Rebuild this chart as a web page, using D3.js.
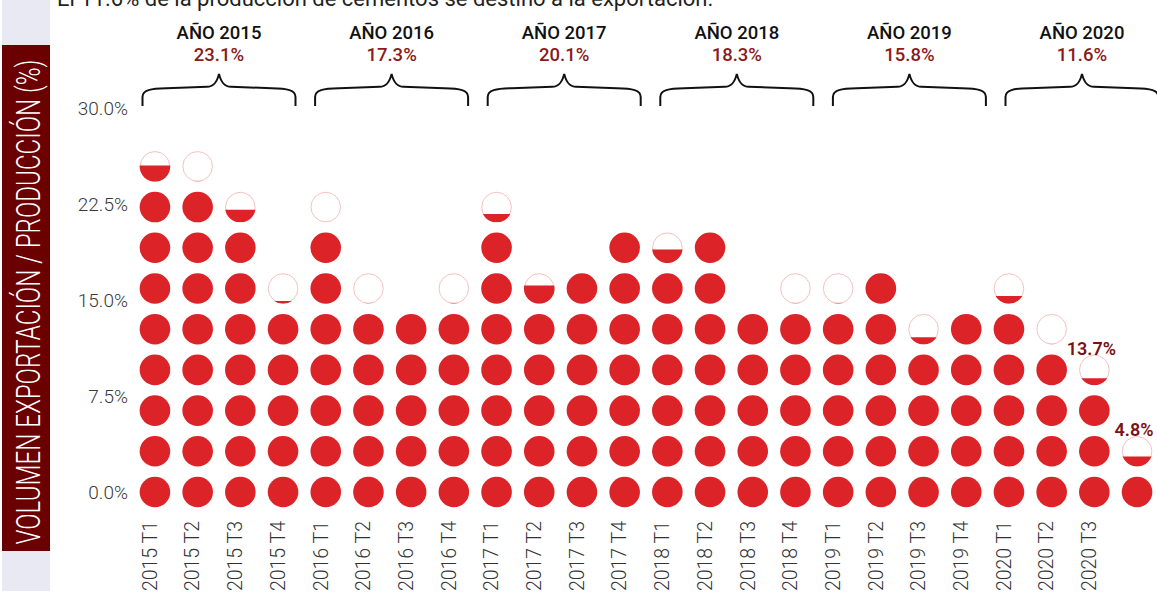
<!DOCTYPE html>
<html lang="es">
<head>
<meta charset="utf-8">
<script src="https://cdn.jsdelivr.net/npm/d3@7"></script>
<style>
  html, body { margin: 0; padding: 0; background: #fff; }
  svg { display: block; font-family: Roboto, "Noto Sans", sans-serif; }
</style>
</head>
<body>
<svg id="chart" width="1157" height="597"></svg>
<script>
// trimestres
const quarters = [
    "2015 T1", "2015 T2", "2015 T3", "2015 T4",
    "2016 T1", "2016 T2", "2016 T3", "2016 T4",
    "2017 T1", "2017 T2", "2017 T3", "2017 T4",
    "2018 T1", "2018 T2", "2018 T3", "2018 T4",
    "2019 T1", "2019 T2", "2019 T3", "2019 T4",
    "2020 T1", "2020 T2", "2020 T3", "2020 T4"
];
// el ultimo trimestre no lleva etiqueta en el original
const quarterLabels = quarters.map((q, i) => i === quarters.length - 1 ? "" : q);

// volumen exportacion / produccion (%)
const exportShare = [
    27.13, 25.46, 23.56, 16.19,
    22.28, 15.92, 15.90, 15.96,
    23.12, 17.81, 19.08, 22.26,
    20.48, 22.26, 15.90, 15.92,
    15.96, 19.08, 13.48, 15.90,
    16.70, 12.74, 10.27, 4.23
];

const years = ["AÑO 2015", "AÑO 2016", "AÑO 2017", "AÑO 2018", "AÑO 2019", "AÑO 2020"];
const yearShare = [23.1, 17.3, 20.1, 18.3, 15.8, 11.6];

const yTicks = [0, 7.5, 15, 22.5, 30];

const notedQuarters = ["2020 T3", "2020 T4"];
const notedValues = [13.7, 4.8];

const dotUnit = 3.18; // % que vale cada circulo

const svg = d3.select("#chart");
const fmt = d => d3.format(".1f")(d) + "%";

const x = d3.scaleBand().domain(quarters).range([133.6, 1158.4]);
const y = d3.scaleLinear().domain([0, 30]).range([492, 108]);
const yearX = d3.scalePoint().domain(years).range([219, 1082]);
const r = 15.3;
const red = "#dc2328";

// titulo (cortado arriba)
svg.append("text")
    .attr("x", 57)
    .attr("y", 6)
    .attr("font-size", 22)
    .attr("fill", "#1f1f1f")
    .text("El 11.6% de la producción de cementos se destinó a la exportación.");

// barra lateral
svg.append("rect")
    .attr("x", 2).attr("y", 0)
    .attr("width", 48).attr("height", 591)
    .attr("fill", "#e9e9f3");

svg.append("rect")
    .attr("x", 2).attr("y", 45)
    .attr("width", 48).attr("height", 506)
    .attr("fill", "#6b0000");

svg.append("text")
    .attr("transform", "translate(40,302) rotate(-90)")
    .attr("text-anchor", "middle")
    .attr("font-size", 34)
    .attr("font-weight", 300)
    .attr("fill", "#fff")
    .attr("textLength", 485)
    .attr("lengthAdjust", "spacingAndGlyphs")
    .text("VOLUMEN EXPORTACIÓN / PRODUCCIÓN (%)");

// eje y
svg.append("g")
    .attr("transform", "translate(128,0)")
    .call(d3.axisLeft(y).tickValues(yTicks).tickSize(0).tickPadding(0).tickFormat(fmt))
    .call(g => g.select(".domain").remove())
    .attr("font-family", null)
    .attr("font-size", 19)
    .selectAll("text")
    .attr("font-weight", 300)
    .attr("fill", "#3a3a3a");

// eje x
svg.append("g")
    .attr("transform", "translate(0,518)")
    .call(d3.axisBottom(x).tickSize(0).tickFormat((d, i) => quarterLabels[i]))
    .call(g => g.select(".domain").remove())
    .attr("font-family", null)
    .attr("font-size", 19.5)
    .selectAll("text")
    .attr("transform", "rotate(-90)")
    .attr("text-anchor", "end")
    .attr("x", -3)
    .attr("y", -5)
    .attr("dy", "0.35em")
    .attr("font-weight", 300)
    .attr("fill", "#333");

// circulos
const dots = [];
quarters.forEach((q, i) => {
    const n = Math.round(exportShare[i] / dotUnit * 1000) / 1000;
    const full = Math.floor(n);
    for (let k = 0; k < full; k++) dots.push({ q, k, f: 1 });
    const frac = n - full;
    if (frac > 0) dots.push({ q, k: full, f: frac });
});

const cx = d => x(d.q) + x.bandwidth() / 2;
const cy = d => y(d.k * dotUnit);

const partial = dots.filter(d => d.f < 1);

svg.append("defs")
    .selectAll("clipPath")
    .data(partial)
    .join("clipPath")
    .attr("id", (d, i) => "clip" + i)
    .append("rect")
    .attr("x", d => cx(d) - r - 1)
    .attr("y", d => cy(d) + r - 2 * r * d.f)
    .attr("width", 2 * r + 2)
    .attr("height", d => 2 * r * d.f);

svg.append("g")
    .selectAll("circle")
    .data(partial)
    .join("circle")
    .attr("cx", cx)
    .attr("cy", cy)
    .attr("r", r - 0.5)
    .attr("fill", "#fff")
    .attr("stroke", "#f6c0c0")
    .attr("stroke-width", 1);

svg.append("g")
    .selectAll("circle")
    .data(partial)
    .join("circle")
    .attr("cx", cx)
    .attr("cy", cy)
    .attr("r", r)
    .attr("fill", red)
    .attr("clip-path", (d, i) => `url(#clip${i})`);

svg.append("g")
    .selectAll("circle")
    .data(dots.filter(d => d.f === 1))
    .join("circle")
    .attr("cx", cx)
    .attr("cy", cy)
    .attr("r", r)
    .attr("fill", red);

// etiquetas 2020
svg.append("g")
    .selectAll("text")
    .data(notedQuarters)
    .join("text")
    .attr("x", q => x(q) + x.bandwidth() / 2 - 3)
    .attr("y", q => {
        const n = Math.round(exportShare[quarters.indexOf(q)] / dotUnit * 1000) / 1000;
        return y(Math.floor(n) * dotUnit) - 15;
    })
    .attr("text-anchor", "middle")
    .attr("font-size", 18)
    .attr("font-weight", 600)
    .attr("fill", "#7b1113")
    .text((q, i) => fmt(notedValues[i]));

// cabeceras por año
const head = svg.append("g")
    .selectAll("g")
    .data(years)
    .join("g")
    .attr("transform", d => `translate(${yearX(d)},0)`);

head.append("text")
    .attr("y", 39)
    .attr("text-anchor", "middle")
    .attr("font-size", 18.5)
    .attr("font-weight", 500)
    .attr("fill", "#111")
    .text(d => d);

head.append("text")
    .attr("y", 61)
    .attr("text-anchor", "middle")
    .attr("font-size", 18.5)
    .attr("font-weight", 500)
    .attr("fill", "#8b1a1a")
    .text((d, i) => fmt(yearShare[i]));

// llaves
const h = 76.5;
head.append("path")
    .attr("d", `M${-h},106 L${-h},97 C${-h},90 ${-h + 8},88.5 ${-h + 24},88.2 L-12,86.8 C-5,86.5 -2,82 0,74 C2,82 5,86.5 12,86.8 L${h - 24},88.2 C${h - 8},88.5 ${h},90 ${h},97 L${h},106`)
    .attr("fill", "none")
    .attr("stroke", "#111")
    .attr("stroke-width", 2);
</script>
</body>
</html>
